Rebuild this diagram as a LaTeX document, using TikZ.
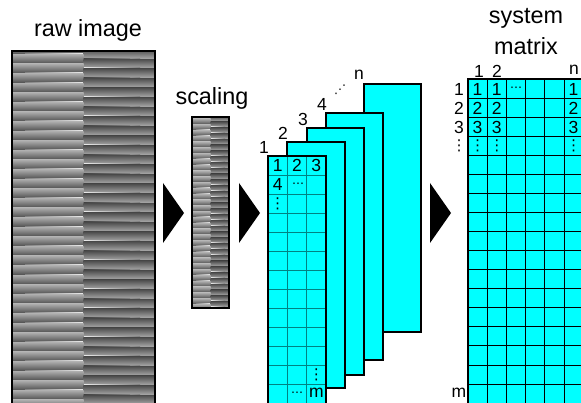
\documentclass[tikz,border=0pt]{standalone}
\usepackage{fontspec}
\setmainfont{Liberation Sans}
\newfontfamily\dotsfont{DejaVu Sans}
\definecolor{pagecyan}{RGB}{0,255,255}
\definecolor{gridteal}{RGB}{0,130,130}
\definecolor{rawlight}{gray}{0.68}
\definecolor{rawmid}{gray}{0.5}
\definecolor{rawdark}{gray}{0.30}
\definecolor{rawbright}{gray}{0.92}
\tikzset{
  biglabel/.style={inner sep=0pt, font=\fontsize{23.4}{25}\selectfont},
  numlabel/.style={inner sep=0pt, font=\fontsize{17.5}{18}\selectfont},
  dotlabel/.style={inner sep=0pt, font=\dotsfont\fontsize{12}{12}\selectfont},
  vdotlabel/.style={inner sep=0pt, font=\dotsfont\fontsize{15}{15}\selectfont},
  pagebox/.style={draw=black, line width=2pt, fill=pagecyan},
  arrowtri/.style={fill=black},
  imgframe/.style={draw=black, line width=2pt},
}
\begin{document}
\begin{tikzpicture}[x=1pt,y=-1pt]
\useasboundingbox (0,0) rectangle (581,403);
\clip (0,0) rectangle (581,403);

% ---------------- raw image ----------------
\begin{scope}
  \clip (12,51) rectangle (155,410);
  \fill[rawmid] (12,51) rectangle (155,410);
  \foreach \k in {0,...,38} {
    \pgfmathsetmacro\ya{44.7+9.6*\k}
    \pgfmathsetmacro\yb{\ya+4.8}
    \shade[top color=rawlight, bottom color=rawdark] (12,\ya) rectangle (83.5,\ya+9.6);
    \shade[left color=rawmid, right color=rawbright] (25,\ya+9.0) rectangle (83.5,\ya+10.0);
    \shade[left color=black!75, right color=rawmid] (83.5,\yb-0.4) rectangle (130,\yb+0.6);
    \shade[top color=rawdark, bottom color=rawlight] (83.5,\yb) rectangle (155,\yb+9.6);
    \shade[left color=rawbright, right color=rawmid] (83.5,\yb+8.8) rectangle (140,\yb+9.8);
  }
\end{scope}
\draw[imgframe] (12,410) -- (12,51) -- (155,51) -- (155,410);
\node[biglabel] (rawlbl) at (88,30) {raw image};

% ---------------- scaled image ----------------
\begin{scope}
  \clip (192,117) rectangle (229,308);
  \fill[rawmid] (192,117) rectangle (229,308);
  \foreach \k in {0,...,33} {
    \pgfmathsetmacro\ya{113+5.8*\k}
    \pgfmathsetmacro\yb{\ya+2.9}
    \shade[top color=rawlight, bottom color=rawdark] (192,\ya) rectangle (210.5,\ya+5.8);
    \shade[left color=rawmid, right color=rawbright] (196,\ya+5.3) rectangle (210.5,\ya+6.0);
    \shade[top color=rawdark, bottom color=rawlight] (210.5,\yb) rectangle (229,\yb+5.8);
    \shade[left color=rawbright, right color=rawmid] (210.5,\yb+5.2) rectangle (225,\yb+5.9);
  }
\end{scope}
\draw[imgframe, line width=1.6pt] (192,117) rectangle (229,308);
\node[biglabel] (scalelbl) at (212,98) {scaling};

% ---------------- arrows ----------------
\fill[arrowtri] (163,183) -- (184,213) -- (163,243) -- cycle;
\fill[arrowtri] (239,183) -- (260,213) -- (239,243) -- cycle;
\fill[arrowtri] (430,183) -- (451,213) -- (430,243) -- cycle;

% ---------------- stack of pages ----------------
\draw[pagebox] (364,84) rectangle (421,332);
\draw[pagebox] (326,113) rectangle (383,360);
\draw[pagebox] (307,128) rectangle (364,375);
\draw[pagebox] (287,142) rectangle (345,388);
\fill[pagecyan] (268,156) rectangle (326,410);
\foreach \c in {1,2} {
  \draw[gridteal, line width=0.8pt] (268+19.33*\c,156) -- (268+19.33*\c,410);
}
\foreach \r in {1,...,12} {
  \draw[gridteal, line width=0.8pt] (268,156+19*\r) -- (326,156+19*\r);
}
\draw[black, line width=2pt] (268,410) -- (268,156) -- (326,156) -- (326,410);

\node[numlabel] (s1) at (264,147) {1};
\node[numlabel] (s2) at (283,133) {2};
\node[numlabel] (s3) at (303,119) {3};
\node[numlabel] (s4) at (322,104) {4};
\node[dotlabel] (sd) at (340,90) {⋰};
\node[numlabel] (sn) at (359,75) {n};

\node[numlabel] (f11) at (277.7,165.5) {1};
\node[numlabel] (f12) at (297,165.5) {2};
\node[numlabel] (f13) at (316.3,165.5) {3};
\node[numlabel] (f21) at (277.7,184.5) {4};
\node[dotlabel] (f22) at (298,185) {⋯};
\node[vdotlabel] (f31) at (277.7,203.5) {⋮};
\node[vdotlabel] (f123) at (316.3,375) {⋮};
\node[dotlabel] (f132) at (297,394.5) {⋯};
\node[numlabel] (f133) at (316.3,393) {m};

% ---------------- system matrix ----------------
\fill[pagecyan] (468,79) rectangle (590,410);
\foreach \c in {1,...,6} {
  \draw[black, line width=0.7pt] (468+19.2*\c,79) -- (468+19.2*\c,410);
}
\foreach \r in {1,...,17} {
  \draw[black, line width=0.7pt] (468,79+19.06*\r) -- (590,79+19.06*\r);
}
\draw[black, line width=2.5pt] (468,410) -- (468,79) -- (590,79);

\node[biglabel] (syslbl) at (526,18) {system};
\node[biglabel] (matlbl) at (526,46) {matrix};

\node[numlabel] (c1) at (479,71) {1};
\node[numlabel] (c2) at (497,71) {2};
\node[numlabel] (cn) at (574,70) {n};
\node[numlabel] (r1) at (459,89) {1};
\node[numlabel] (r2) at (459,108) {2};
\node[numlabel] (r3) at (459,127) {3};
\node[vdotlabel] (r4) at (459,146) {⋮};
\node[numlabel] (rm) at (459,393) {m};

\node[numlabel] (m11) at (477.6,89) {1};
\node[numlabel] (m12) at (496.8,89) {1};
\node[dotlabel] (m13) at (516,89.5) {⋯};
\node[numlabel] (m16) at (573.6,89) {1};
\node[numlabel] (m21) at (477.6,108) {2};
\node[numlabel] (m22) at (496.8,108) {2};
\node[numlabel] (m26) at (573.6,108) {2};
\node[numlabel] (m31) at (477.6,127) {3};
\node[numlabel] (m32) at (496.8,127) {3};
\node[numlabel] (m36) at (573.6,127) {3};
\node[vdotlabel] (m41) at (477.6,146) {⋮};
\node[vdotlabel] (m42) at (496.8,146) {⋮};
\node[vdotlabel] (m46) at (573.6,146) {⋮};
\end{tikzpicture}
\end{document}
